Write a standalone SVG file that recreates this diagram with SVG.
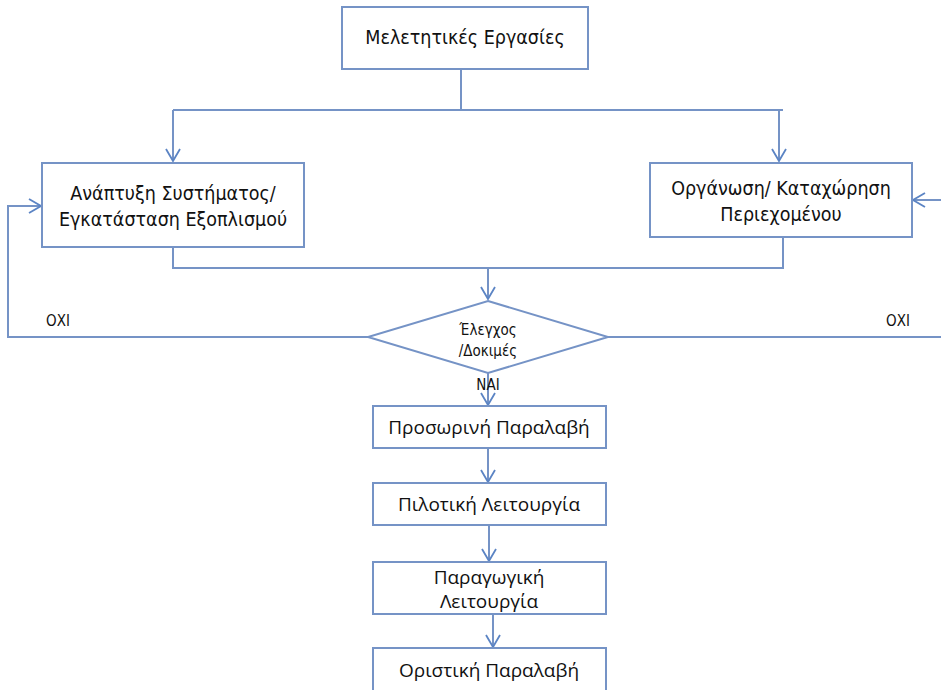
<svg xmlns="http://www.w3.org/2000/svg" width="941" height="690" viewBox="0 0 941 690">
  <defs>
    <marker id="arrow" viewBox="0 0 14 16" refX="13" refY="8" markerWidth="14" markerHeight="16" markerUnits="userSpaceOnUse" orient="auto">
      <path d="M1,1 L13,8 L1,15" fill="none" stroke="#5b84c4" stroke-width="1.8"/>
    </marker>
  </defs>
  <style>
    .box { fill: #ffffff; stroke: #7593c6; stroke-width: 2; }
    .wire { fill: none; stroke: #7593c6; stroke-width: 2; }
    .narrow { font-family: "Liberation Sans Narrow", "DejaVu Sans Condensed", "Liberation Sans", sans-serif; font-size: 19.5px; fill: #111; text-anchor: middle; }
    .small { font-family: "Liberation Sans Narrow", "DejaVu Sans Condensed", "Liberation Sans", sans-serif; font-size: 15px; fill: #111; text-anchor: middle; }
    .wide { font-family: "Open Sans", "Noto Sans", sans-serif; font-size: 19px; fill: #111; text-anchor: middle; }
  </style>
  <rect width="941" height="690" fill="#ffffff"/>

  <!-- connectors -->
  <g id="connectors">
    <path class="wire" d="M461,69 V110"/>
    <path class="wire" d="M173,110 H783"/>
    <path class="wire" d="M173,110 V161" marker-end="url(#arrow)"/>
    <path class="wire" d="M779,110 V161" marker-end="url(#arrow)"/>
    <path class="wire" d="M173,247 V268 H783 V237"/>
    <path class="wire" d="M488,268 V299" marker-end="url(#arrow)"/>
    <path class="wire" d="M368,337 H8 V206 H41" marker-end="url(#arrow)"/>
    <path class="wire" d="M608,337 H941"/>
    <path class="wire" d="M941,200 H913" marker-end="url(#arrow)"/>
    <path class="wire" d="M488,373 V405" marker-end="url(#arrow)"/>
    <path class="wire" d="M488,448 V482" marker-end="url(#arrow)"/>
    <path class="wire" d="M489,525 V561" marker-end="url(#arrow)"/>
    <path class="wire" d="M493,614 V647" marker-end="url(#arrow)"/>
  </g>

  <g id="labels">
    <text class="small" x="58" y="326">ΟΧΙ</text>
    <text class="small" x="898" y="326">ΟΧΙ</text>
    <text class="small" x="488" y="390">ΝΑΙ</text>
  </g>

  <g id="meletitikes">
    <rect class="box" x="342" y="7" width="246" height="62"/>
    <text class="narrow" x="465" y="44">Μελετητικές Εργασίες</text>
  </g>

  <g id="anaptyxi">
    <rect class="box" x="42" y="163" width="262" height="84"/>
    <text class="narrow" x="173" y="200">Ανάπτυξη Συστήματος/</text>
    <text class="narrow" x="173" y="226">Εγκατάσταση Εξοπλισμού</text>
  </g>

  <g id="organosi">
    <rect class="box" x="650" y="163" width="262" height="74"/>
    <text class="narrow" x="781" y="195">Οργάνωση/ Καταχώρηση</text>
    <text class="narrow" x="781" y="221">Περιεχομένου</text>
  </g>

  <g id="elegxos">
    <polygon class="box" points="488,301 608,337 488,373 368,337"/>
    <text class="small" x="488" y="335">Έλεγχος</text>
    <text class="small" x="488" y="356">/Δοκιμές</text>
  </g>

  <g id="prosorini">
    <rect class="box" x="373" y="406" width="233" height="42"/>
    <text class="wide" x="489" y="434">Προσωρινή Παραλαβή</text>
  </g>

  <g id="pilotiki">
    <rect class="box" x="373" y="483" width="233" height="42"/>
    <text class="wide" x="489" y="511">Πιλοτική Λειτουργία</text>
  </g>

  <g id="paragogiki">
    <rect class="box" x="373" y="562" width="233" height="52"/>
    <text class="wide" x="489" y="584">Παραγωγική</text>
    <text class="wide" x="489" y="608">Λειτουργία</text>
  </g>

  <g id="oristiki">
    <rect class="box" x="373" y="648" width="233" height="50"/>
    <text class="wide" x="489" y="677">Οριστική Παραλαβή</text>
  </g>
</svg>
